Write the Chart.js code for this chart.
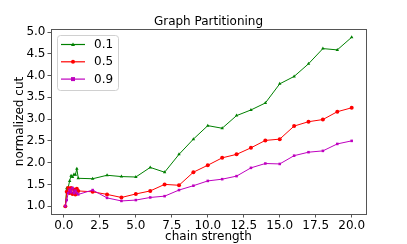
<!DOCTYPE html>
<html>
<head>
<meta charset="utf-8">
<script src="https://cdn.jsdelivr.net/npm/chart.js@4"></script>
<style>
  body { margin: 0; background: #fff; }
  canvas { display: block; }
</style>
</head>
<body>
<canvas id="partChart" width="407" height="244"></canvas>
<script>
// chain strength values
const chainStrength = [0.1, 0.2, 0.3, 0.4, 0.5, 0.6, 0.7, 0.8, 0.9, 1.0,
    2, 3, 4, 5, 6, 7, 8, 9, 10, 11, 12, 13, 14, 15, 16, 17, 18, 19, 20];

// normalized cut for each setting
const cut01 = [1.0, 1.41, 1.43, 1.58, 1.70, 1.67, 1.73, 1.72, 1.86, 1.64,
    1.63, 1.71, 1.68, 1.67, 1.89, 1.78, 2.19, 2.54, 2.85, 2.79, 3.08, 3.21, 3.37, 3.81, 3.98, 4.27, 4.62, 4.59, 4.88];
const cut05 = [1.0, 1.33, 1.42, 1.30, 1.42, 1.28, 1.38, 1.27, 1.40, 1.35,
    1.33, 1.27, 1.20, 1.28, 1.35, 1.50, 1.48, 1.78, 1.94, 2.11, 2.19, 2.34, 2.51, 2.54, 2.84, 2.94, 2.99, 3.17, 3.26];
const cut09 = [1.0, 1.14, 1.30, 1.38, 1.32, 1.42, 1.30, 1.36, 1.30, 1.27,
    1.37, 1.19, 1.12, 1.14, 1.20, 1.23, 1.37, 1.47, 1.58, 1.62, 1.69, 1.88, 1.98, 1.97, 2.16, 2.24, 2.27, 2.43, 2.50];

const seriesLabels = ['0.1', '0.5', '0.9'];
const xTicks = [0, 2.5, 5, 7.5, 10, 12.5, 15, 17.5, 20];
const yTicks = [1.0, 1.5, 2.0, 2.5, 3.0, 3.5, 4.0, 4.5, 5.0];

const FONT = 'DejaVu Sans';
const spine = '#555';

function pts(ys) {
    return chainStrength.map((x, i) => ({ x: x, y: ys[i] }));
}

// little marker helper for the legend
function marker(ctx, style, x, y, r, color) {
    ctx.fillStyle = color;
    ctx.beginPath();
    if (style === 'triangle') {
        ctx.moveTo(x, y - r);
        ctx.lineTo(x + r, y + r * 0.8);
        ctx.lineTo(x - r, y + r * 0.8);
        ctx.closePath();
    } else if (style === 'rect') {
        ctx.rect(x - r, y - r, r * 2, r * 2);
    } else {
        ctx.arc(x, y, r, 0, Math.PI * 2);
    }
    ctx.fill();
}

// box around the plot + legend in upper left
const framePlugin = {
    id: 'frame',
    afterDatasetsDraw(chart) {
        const { ctx, chartArea: a } = chart;
        ctx.save();
        ctx.strokeStyle = spine;
        ctx.lineWidth = 1;
        ctx.strokeRect(Math.round(a.left) + 0.5, Math.round(a.top) + 0.5,
            Math.round(a.right - a.left), Math.round(a.bottom - a.top));

        // legend
        ctx.fillStyle = 'rgba(255,255,255,0.8)';
        ctx.strokeStyle = '#d0d0d0';
        ctx.beginPath();
        ctx.roundRect(57.5, 35.5, 61, 55, 3);
        ctx.fill();
        ctx.stroke();
        chart.data.datasets.forEach((ds, i) => {
            const cy = 44.5 + i * 17.3;
            ctx.strokeStyle = ds.borderColor;
            ctx.lineWidth = 1.2;
            ctx.beginPath();
            ctx.moveTo(61, cy);
            ctx.lineTo(85, cy);
            ctx.stroke();
            marker(ctx, ds.pointStyle, 73, cy, 2, ds.borderColor);
            ctx.fillStyle = '#000';
            ctx.font = '12px ' + FONT;
            ctx.textBaseline = 'middle';
            ctx.textAlign = 'left';
            ctx.fillText(ds.label, 94, cy + 0.5);
        });
        ctx.restore();
    }
};

const ctx = document.getElementById('partChart').getContext('2d');
const partChart = new Chart(ctx, {
    type: 'line',
    data: {
        datasets: [{
            label: seriesLabels[0],
            data: pts(cut01),
            borderColor: 'green',
            backgroundColor: 'green',
            borderWidth: 1,
            pointStyle: 'triangle',
            pointRadius: 2,
            pointBorderWidth: 0,
            order: 2
        }, {
            label: seriesLabels[1],
            data: pts(cut05),
            borderColor: 'red',
            backgroundColor: 'red',
            borderWidth: 1,
            pointStyle: 'circle',
            pointRadius: 2,
            pointBorderWidth: 0,
            order: 1
        }, {
            label: seriesLabels[2],
            data: pts(cut09),
            borderColor: '#bf00bf',
            backgroundColor: '#bf00bf',
            borderWidth: 1,
            pointStyle: 'rect',
            pointRadius: 1.8,
            pointBorderWidth: 0,
            order: 0
        }]
    },
    options: {
        responsive: false,
        animation: false,
        layout: { padding: { left: 0, right: 41, top: 0, bottom: 0 } },
        plugins: {
            legend: { display: false },
            tooltip: { enabled: false },
            title: {
                display: true,
                text: 'Graph Partitioning',
                fullSize: false,
                color: '#000',
                font: { family: FONT, size: 12, weight: 'normal', lineHeight: 1 },
                padding: { top: 16, bottom: 1 }
            }
        },
        scales: {
            x: {
                type: 'linear',
                min: -0.895,
                max: 20.995,
                afterBuildTicks: s => { s.ticks = xTicks.map(v => ({ value: v })); },
                afterFit: s => { s.height = 30; },
                border: { display: false },
                grid: { drawOnChartArea: false, drawTicks: true, tickLength: 3.5, color: spine },
                ticks: {
                    autoSkip: false,
                    maxRotation: 0,
                    padding: 1,
                    color: '#000',
                    font: { family: FONT, size: 12 },
                    callback: v => v.toFixed(1)
                },
                title: {
                    display: true,
                    text: 'chain strength',
                    color: '#000',
                    font: { family: FONT, size: 12 },
                    padding: { top: 0, bottom: 0 }
                }
            },
            y: {
                min: 0.82,
                max: 5.07,
                afterBuildTicks: s => { s.ticks = yTicks.map(v => ({ value: v })); },
                afterFit: s => { s.width = 51; },
                border: { display: false },
                grid: { drawOnChartArea: false, drawTicks: true, tickLength: 3.5, color: spine },
                ticks: {
                    autoSkip: false,
                    padding: 2,
                    color: '#000',
                    font: { family: FONT, size: 12 },
                    callback: v => v.toFixed(1)
                },
                title: {
                    display: true,
                    text: 'normalized cut',
                    color: '#000',
                    font: { family: FONT, size: 12 },
                    padding: { top: 12.5, bottom: 0 }
                }
            }
        }
    },
    plugins: [framePlugin]
});
</script>
</body>
</html>
